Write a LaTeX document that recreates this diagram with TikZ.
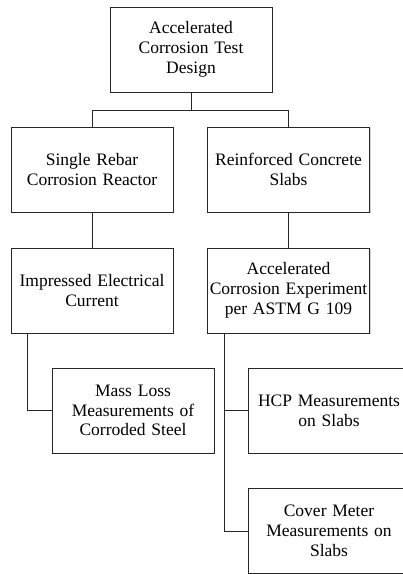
\documentclass[tikz,border=0pt]{standalone}
\usepackage{fontspec}
\setmainfont{Liberation Serif}
\usepackage{tikz}
\usetikzlibrary{shadows}

\begin{document}
\begin{tikzpicture}[x=1pt,y=-1pt,line width=0.9pt,
  blk/.style={draw=black!85,fill=white,minimum width=162pt,minimum height=85pt,
    text width=160pt,align=center,inner sep=1pt,
    font=\fontsize{17.5}{19.8}\selectfont,
    drop shadow={shadow xshift=1.2pt,shadow yshift=-1.2pt,opacity=0.35}},
  lnk/.style={draw=black!85}]
\useasboundingbox (0,0) rectangle (403,574);
\clip (0,0) rectangle (403,574);
\node[blk] (design) at (191,49.5) {Accelerated\\Corrosion Test\\Design};
\node[blk] (rebar) at (92,169.5) {Single Rebar\\Corrosion Reactor};
\node[blk] (slabs) at (288.5,169.5) {Reinforced Concrete\\Slabs};
\node[blk] (current) at (92,290.5) {Impressed Electrical\\Current};
\node[blk] (astm) at (288.5,290.5) {Accelerated\\Corrosion Experiment\\per ASTM G 109};
\node[blk] (massloss) at (133,410.5) {Mass Loss\\Measurements of\\Corroded Steel};
\node[blk] (hcp) at (329,410.5) {HCP Measurements\\on Slabs};
\node[blk] (cover) at (329,531) {Cover Meter\\Measurements on\\Slabs};
% tree lines
\coordinate (split) at (191,110);
\draw[lnk] (design.south) -- (split) -| (rebar.north);
\draw[lnk] (split) -| (slabs.north);
\draw[lnk] (rebar) -- (current);
\draw[lnk] (slabs) -- (astm);
\draw[lnk] ([xshift=17pt]current.south west) |- (massloss.west);
\draw[lnk] ([xshift=17pt]astm.south west) |- (hcp.west);
\draw[lnk] ([xshift=17pt]astm.south west) |- (cover.west);
\end{tikzpicture}
\end{document}
